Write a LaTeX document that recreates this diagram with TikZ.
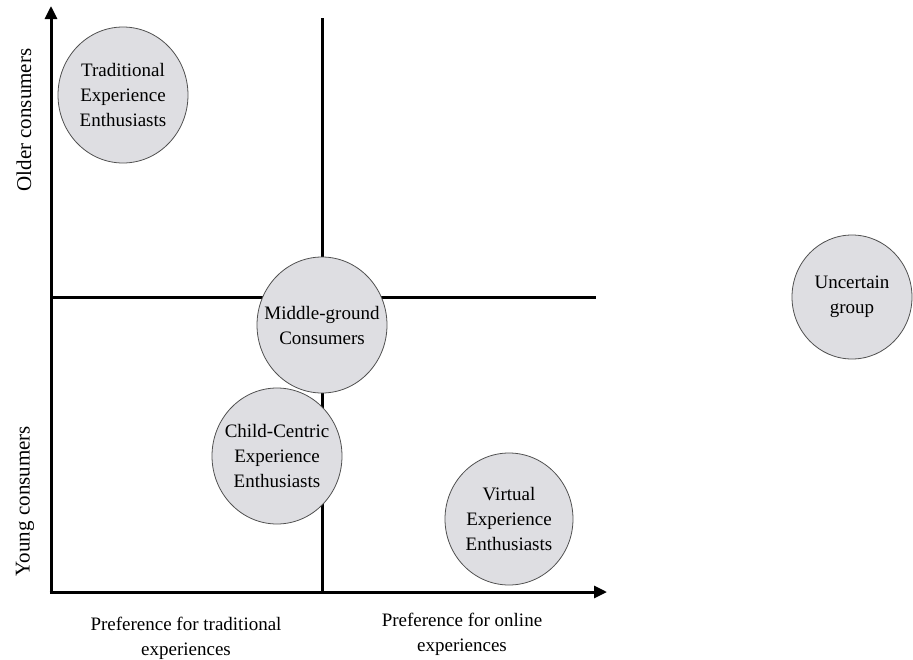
\documentclass[tikz,border=0pt]{standalone}
\usepackage{fontspec}
\setmainfont{Liberation Serif}
\usetikzlibrary{arrows.meta,shapes.geometric}
\definecolor{grpfill}{RGB}{222,222,226}
\definecolor{grpline}{RGB}{80,80,80}
\begin{document}
\begin{tikzpicture}[x=1pt,y=-1pt,
  axisline/.style={line width=3pt},
  axisarrow/.style={line width=3pt,-{Triangle[length=13pt,width=12pt]}},
  grp/.style={ellipse,draw=grpline,line width=0.8pt,fill=grpfill,align=center,inner xsep=-30pt,inner ysep=-10pt,
    minimum width=130pt,minimum height=136pt,font=\fontsize{19}{25}\selectfont},
  lbl/.style={align=center,font=\fontsize{19}{25}\selectfont,inner sep=0pt},
  ylbl/.style={rotate=90,font=\fontsize{21}{25}\selectfont,inner sep=0pt}]
\useasboundingbox (0,0) rectangle (913,659);
\coordinate (O) at (51,592);
\coordinate (Ytop) at (51,6);
\coordinate (Xend) at (607,592);
\coordinate (Vtop) at (322,18);
\coordinate (Vbot) at (322,592);
\coordinate (Hl) at (51,297);
\coordinate (Hr) at (596,297);
\draw[axisline] (Vtop) -- (Vbot);
\draw[axisline] (Hl) -- (Hr);
\draw[axisarrow] ([yshift=1.5pt]O) -- (Ytop);
\draw[axisarrow] ([xshift=-1.5pt]O) -- (Xend);
\node[grp] (trad) at (123,95) {Traditional\\Experience\\Enthusiasts};
\node[grp] (mid) at (322,325) {Middle-ground\\Consumers};
\node[grp] (child) at (277,456) {Child-Centric\\Experience\\Enthusiasts};
\node[grp,minimum width=128pt,minimum height=132pt] (virt) at (509,519) {Virtual\\Experience\\Enthusiasts};
\node[grp,minimum width=120pt,minimum height=124pt] (unc) at (852,297) {Uncertain\\group};
\node[ylbl] (older) at (24,120) {Older consumers};
\node[ylbl] (young) at (25,501) {Young consumers};
\node[lbl] (xtrad) at (186,638) {Preference for traditional\\experiences};
\node[lbl] (xonl) at (462,634) {Preference for online\\experiences};
\end{tikzpicture}
\end{document}
